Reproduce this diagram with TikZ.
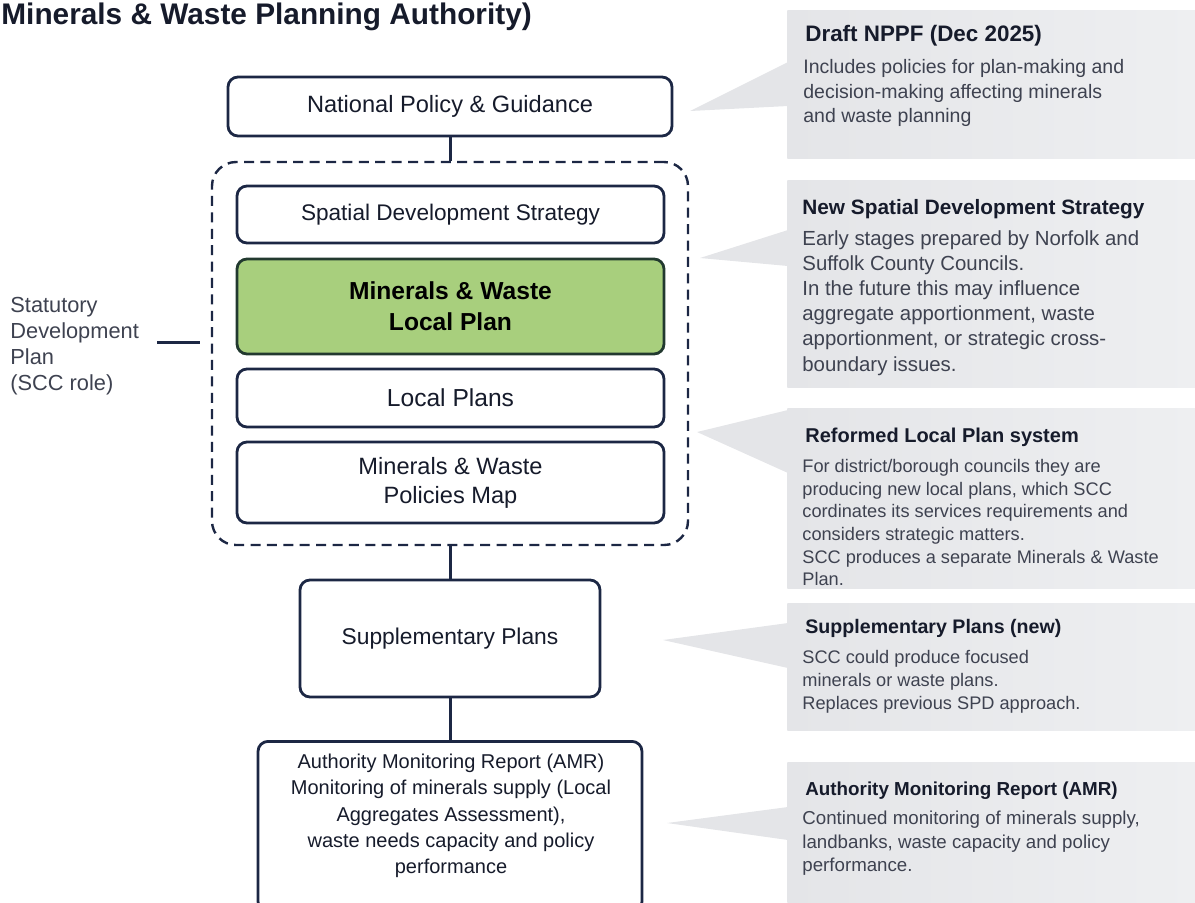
\documentclass[tikz,border=0pt]{standalone}
\usepackage{fontspec}
\setmainfont{Liberation Sans}
\usepackage{xcolor}
\usepackage{tikz}
\usetikzlibrary{calc}
\definecolor{navy}{HTML}{1C2744}
\definecolor{inktext}{HTML}{161B2B}
\definecolor{greytext}{HTML}{3E4250}
\definecolor{calloutgrey}{HTML}{E4E5E8}
\definecolor{calloutlight}{HTML}{EEEFF1}
\definecolor{planGreen}{HTML}{A8CF7D}
\definecolor{greenedge}{HTML}{22392F}

\begin{document}
\begin{tikzpicture}[x=0.5pt,y=-0.5pt,
  planbox/.style={draw=navy, line width=1.4pt, rounded corners=5pt, fill=white, text=inktext, align=center, inner sep=0pt},
  link/.style={draw=navy, line width=1.5pt},
  dashgroup/.style={draw=navy, line width=1.2pt, dash pattern=on 5pt off 3.2pt, rounded corners=12pt},
  calloutbox/.style={left color=calloutgrey, right color=calloutlight, draw=none, inner sep=0pt, anchor=north west, minimum width=205pt},
  pointer/.style={fill=calloutgrey},
  callhead/.style={anchor=base west, inner sep=0pt, text=inktext},
  callbody/.style={anchor=north west, inner sep=0pt, text=greytext, align=left}]
\useasboundingbox (0,0) rectangle (1195,902);

% title
\node[anchor=base west, inner sep=0pt, text=inktext, font=\fontsize{14.9}{18}\selectfont\bfseries] (pagetitle) at (1,24) {Minerals \& Waste Planning Authority)};

% hierarchy
\node[planbox, minimum width=222pt, minimum height=29.5pt, font=\fontsize{11.8}{14}\selectfont] (national) at (450,106.5) {National Policy \& Guidance};
\node[dashgroup, minimum width=238pt, minimum height=191.5pt] (sdp) at (450,353.5) {};
\node[planbox, minimum width=213.5pt, minimum height=28.5pt, font=\fontsize{11.3}{14}\selectfont] (sds) at (450.5,214.5) {Spatial Development Strategy};
\node[planbox, fill=planGreen, draw=greenedge, text=black, minimum width=213.5pt, minimum height=47.5pt, font=\fontsize{12.3}{15.5}\selectfont\bfseries] (mwlp) at (450.5,306.5) {Minerals \& Waste\\Local Plan};
\node[planbox, minimum width=213.5pt, minimum height=29pt, font=\fontsize{12.3}{14}\selectfont] (lplans) at (450.5,398) {Local Plans};
\node[planbox, minimum width=213.5pt, minimum height=40.5pt, font=\fontsize{11.8}{14.5}\selectfont] (mwmap) at (450.5,482.5) {Minerals \& Waste\\Policies Map};
\node[planbox, minimum width=150pt, minimum height=58.5pt, font=\fontsize{11.4}{14}\selectfont] (supp) at (450,638.5) {Supplementary Plans};
\node[planbox, minimum width=192pt, minimum height=85pt, anchor=north] (amr) at (450,740) {};
\node[text=inktext, align=center, inner sep=0pt, font=\fontsize{10}{13.2}\selectfont] (amrtext) at (451,816) {Authority Monitoring Report (AMR)\\Monitoring of minerals supply (Local\\Aggregates Assessment),\\waste needs capacity and policy\\performance};

\draw[link] (national.south) -- (sdp.north);
\draw[link] (sdp.south) -- (supp.north);
\draw[link] (supp.south) -- (amr.north);

% statutory development plan label
\node[anchor=north west, align=left, inner sep=0pt, text=greytext, font=\fontsize{10.9}{13}\selectfont] (sdplabel) at (10,297) {Statutory\\Development\\Plan\\(SCC role)};
\coordinate (sdpfrom) at (157,342);
\coordinate (sdpto) at (200,342);
\draw[link] (sdpfrom) -- (sdpto);

% callouts
\node[calloutbox, minimum height=74pt] (drafthint) at (787,10) {};
\node[calloutbox, minimum height=103.5pt] (sdshint) at (787,180) {};
\node[calloutbox, minimum height=90pt] (localhint) at (787,408) {};
\node[calloutbox, minimum height=63.5pt] (supphint) at (787,603) {};
\node[calloutbox, minimum height=75pt] (amrhint) at (787,762) {};

\coordinate (drafttip) at (690,111);
\coordinate (sdstip) at (700,258);
\coordinate (localtip) at (697,432);
\coordinate (supptip) at (663,640);
\coordinate (amrtip) at (667,823);
\foreach \hint/\tip/\hi/\lo in {drafthint/drafttip/52/96, sdshint/sdstip/50/86, localhint/localtip/2/65, supphint/supptip/20/65, amrhint/amrtip/45/78}
  \fill[pointer] (\tip) -- ($(\hint.north west)+(1,\hi)$) -- ($(\hint.north west)+(1,\lo)$) -- cycle;

\node[callhead, font=\fontsize{11.2}{13}\selectfont\bfseries] (drafttitle) at (805,41) {Draft NPPF (Dec 2025)};
\node[callbody, font=\fontsize{9.75}{12.25}\selectfont] (draftbody) at (803,59) {Includes policies for plan-making and\\decision-making affecting minerals\\and waste planning};

\node[callhead, font=\fontsize{10.4}{13}\selectfont\bfseries] (sdstitle) at (802,214) {New Spatial Development Strategy};
\node[callbody, font=\fontsize{10.2}{12.6}\selectfont] (sdsbody) at (802,230) {Early stages prepared by Norfolk and\\Suffolk County Councils.\\In the future this may influence\\aggregate apportionment, waste\\apportionment, or strategic cross-\\boundary issues.};

\node[callhead, font=\fontsize{10}{13}\selectfont\bfseries] (localtitle) at (805,442) {Reformed Local Plan system};
\node[callbody, font=\fontsize{9.1}{11.3}\selectfont] (localbody) at (802,459) {For district/borough councils they are\\producing new local plans, which SCC\\cordinates its services requirements and\\considers strategic matters.\\SCC produces a separate Minerals \& Waste\\Plan.};

\node[callhead, font=\fontsize{9.8}{13}\selectfont\bfseries] (supptitle) at (805,633) {Supplementary Plans (new)};
\node[callbody, font=\fontsize{9.1}{11.5}\selectfont] (suppbody) at (802,650) {SCC could produce focused\\minerals or waste plans.\\Replaces previous SPD approach.};

\node[callhead, font=\fontsize{9.4}{13}\selectfont\bfseries] (amrtitle) at (805,795) {Authority Monitoring Report (AMR)};
\node[callbody, font=\fontsize{9.35}{11.75}\selectfont] (amrbody) at (802,811) {Continued monitoring of minerals supply,\\landbanks, waste capacity and policy\\performance.};
\end{tikzpicture}
\end{document}
